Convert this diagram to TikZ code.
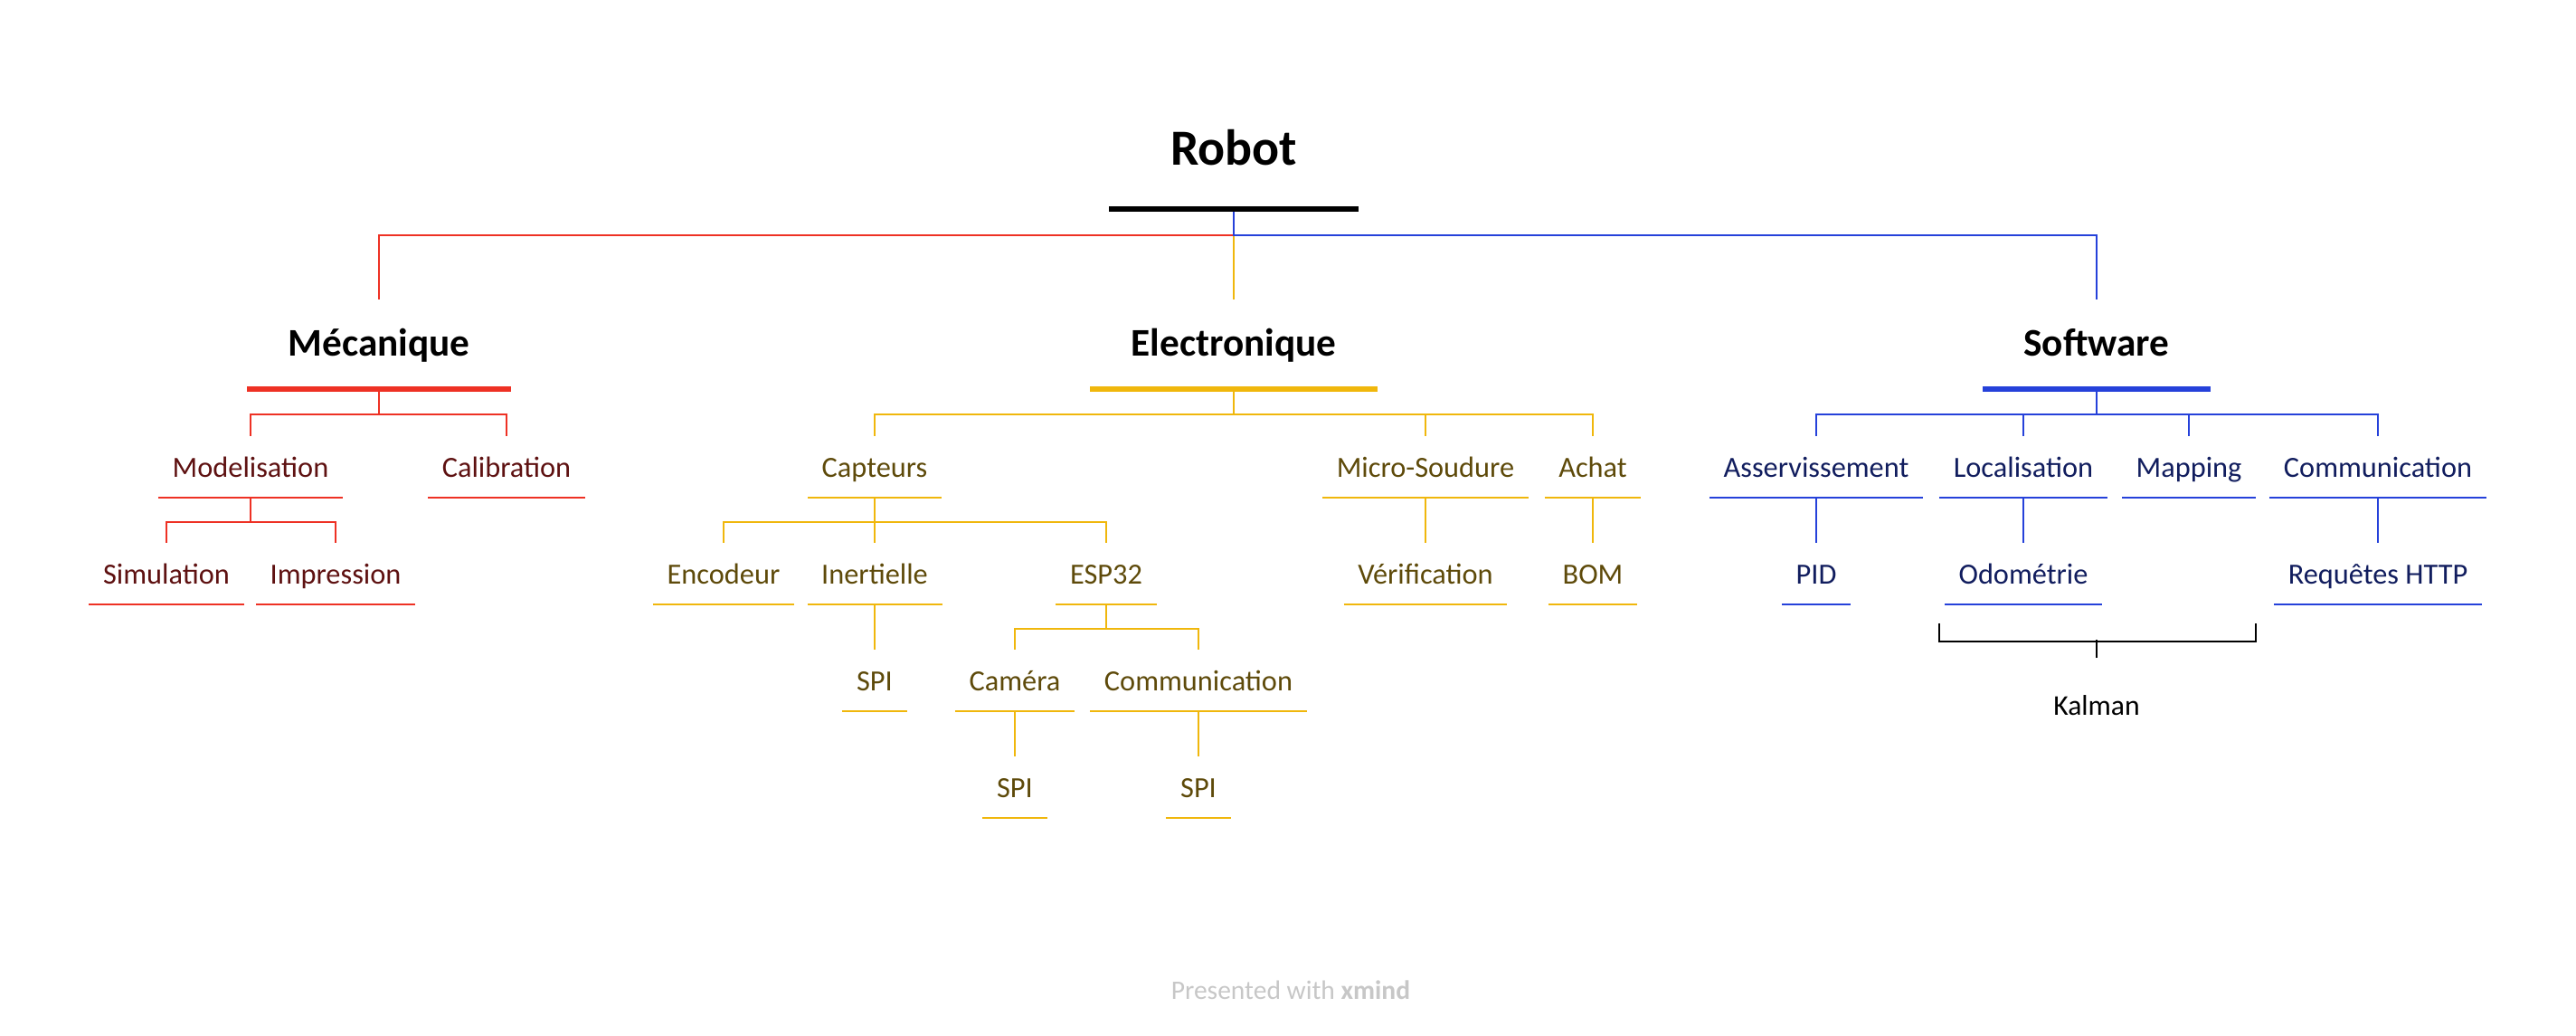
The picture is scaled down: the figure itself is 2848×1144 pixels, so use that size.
\documentclass[tikz,border=0pt]{standalone}
\usepackage{fontspec}
\setmainfont{Carlito}
\usetikzlibrary{calc}
\definecolor{mecline}{HTML}{EE3124}
\definecolor{mectext}{HTML}{5E1111}
\definecolor{eleline}{HTML}{F0B70C}
\definecolor{eletext}{HTML}{5E4A0A}
\definecolor{sofline}{HTML}{2541DA}
\definecolor{softext}{HTML}{111D5E}

\begin{document}
\begin{tikzpicture}[x=0.01cm,y=-0.01cm,
    link/.style={line width=0.6pt},
    thick bar/.style={line width=1.7pt},
    root style/.style={font=\bfseries\fontsize{15.9}{18}\selectfont,inner xsep=0.67cm,inner ysep=0.485cm,text height=0.35cm,text depth=0pt,anchor=base},
    main style/.style={font=\bfseries\fontsize{12.3}{14}\selectfont,inner xsep=0.445cm,inner ysep=0.365cm,text height=0.25cm,text depth=0pt,anchor=base},
    sub style/.style={font=\fontsize{9.2}{11}\selectfont,inner xsep=0.15cm,inner ysep=0.22cm,text height=0.22cm,text depth=0pt,anchor=base},
    mec sub/.style={sub style,text=mectext},
    ele sub/.style={sub style,text=eletext},
    sof sub/.style={sub style,text=softext}]
  \useasboundingbox (0,0) rectangle (2848,1144);

  \node[root style] (robot) at (1364,182) {Robot};
  \node[main style] (mec) at (419,393) {Mécanique};
  \node[main style] (ele) at (1364,393) {Electronique};
  \node[main style] (sof) at (2318,393) {Software};

  % Mecanique
  \node[mec sub] (mod) at (277,527) {Modelisation};
  \node[mec sub] (cal) at (560,527) {Calibration};
  \node[mec sub] (sim) at (184,645) {Simulation};
  \node[mec sub] (imp) at (371,645) {Impression};

  % Electronique
  \node[ele sub] (cap) at (967,527) {Capteurs};
  \node[ele sub] (mic) at (1576,527) {Micro-Soudure};
  \node[ele sub] (ach) at (1761,527) {Achat};
  \node[ele sub] (enc) at (800,645) {Encodeur};
  \node[ele sub] (ine) at (967,645) {Inertielle};
  \node[ele sub] (esp) at (1223,645) {ESP32};
  \node[ele sub] (ver) at (1576,645) {Vérification};
  \node[ele sub] (bom) at (1761,645) {BOM};
  \node[ele sub] (spia) at (967,763) {SPI};
  \node[ele sub] (cam) at (1122,763) {Caméra};
  \node[ele sub] (com) at (1325,763) {Communication};
  \node[ele sub] (spib) at (1122,881) {SPI};
  \node[ele sub] (spic) at (1325,881) {SPI};

  % Software
  \node[sof sub] (ass) at (2008,527) {Asservissement};
  \node[sof sub] (loc) at (2237,527) {Localisation};
  \node[sof sub] (map) at (2420,527) {Mapping};
  \node[sof sub] (swcom) at (2629,527) {Communication};
  \node[sof sub] (pid) at (2008,645) {PID};
  \node[sof sub] (odo) at (2237,645) {Odométrie};
  \node[sof sub] (req) at (2629,645) {Requêtes HTTP};

  % branches
  \draw[mecline,link] (robot.south) -- ++(0,29) -| (mec.north);
  \draw[eleline,link] (robot.south) -- (ele.north);
  \draw[sofline,link] (robot.south) -- ++(0,29) -| (sof.north);
  \foreach \p/\c in {mec/mod,mec/cal}
    \draw[mecline,link] (\p.south) -- ++(0,28) -| (\c.north);
  \foreach \p/\c in {mod/sim,mod/imp}
    \draw[mecline,link] (\p.south) -- ++(0,27) -| (\c.north);
  \foreach \p/\c in {ele/cap,ele/mic,ele/ach}
    \draw[eleline,link] (\p.south) -- ++(0,28) -| (\c.north);
  \foreach \p/\c in {cap/enc,cap/ine,cap/esp,mic/ver,ach/bom,ine/spia,esp/cam,esp/com,cam/spib,com/spic}
    \draw[eleline,link] (\p.south) -- ++(0,27) -| (\c.north);
  \foreach \p/\c in {sof/ass,sof/loc,sof/map,sof/swcom}
    \draw[sofline,link] (\p.south) -- ++(0,28) -| (\c.north);
  \foreach \p/\c in {ass/pid,loc/odo,swcom/req}
    \draw[sofline,link] (\p.south) -- ++(0,27) -| (\c.north);

  % underlines
  \draw[thick bar] (robot.south west) -- (robot.south east);
  \draw[mecline,thick bar] (mec.south west) -- (mec.south east);
  \draw[eleline,thick bar] (ele.south west) -- (ele.south east);
  \draw[sofline,thick bar] (sof.south west) -- (sof.south east);
  \foreach \n in {mod,cal,sim,imp}
    \draw[mecline,link] (\n.south west) -- (\n.south east);
  \foreach \n in {cap,mic,ach,enc,ine,esp,ver,bom,spia,cam,com,spib,spic}
    \draw[eleline,link] (\n.south west) -- (\n.south east);
  \foreach \n in {ass,loc,map,swcom,pid,odo,req}
    \draw[sofline,link] (\n.south west) -- (\n.south east);

  % summary
  \node[font=\fontsize{9}{11}\selectfont,text height=0.2cm,text depth=0pt,inner ysep=0.42cm,anchor=base] (kal) at (2318,790) {Kalman};
  \coordinate (kl) at ($(loc.south west |- odo.south)+(0,21)$);
  \coordinate (kr) at ($(map.south east |- odo.south)+(0,21)$);
  \draw[link] (kl) -- ++(0,20) -| (kr);
  \draw[link] (kal.north) -- ++(0,-20);

  \node[font=\fontsize{8.4}{10}\selectfont,text=black!22,anchor=base] (foot) at (1427,1104) {Presented with \textbf{xmind}};
\end{tikzpicture}
\end{document}
